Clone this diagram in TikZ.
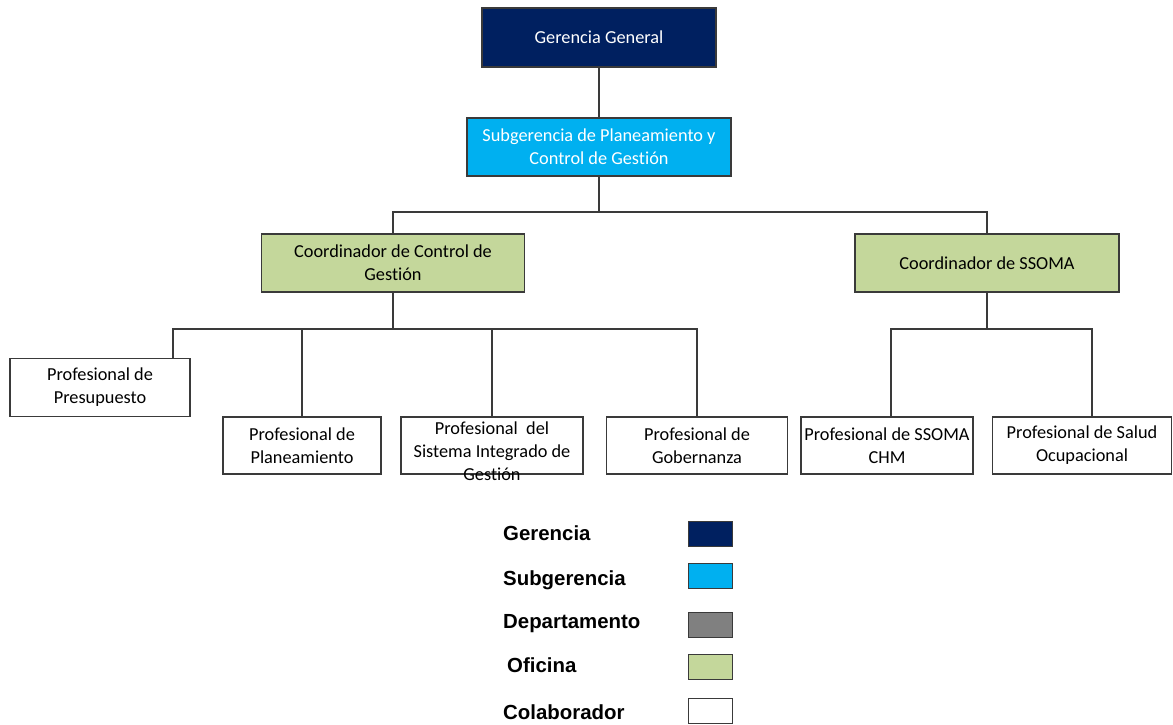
\documentclass[tikz,border=0pt]{standalone}
\usepackage{fontspec}
\setmainfont{Carlito}[Ligatures=NoCommon]
\newfontfamily\legfont{Liberation Sans}
\definecolor{gerC}{HTML}{002060}
\definecolor{subC}{HTML}{00B0F0}
\definecolor{depC}{HTML}{808080}
\definecolor{ofiC}{HTML}{C4D79B}
\definecolor{lineC}{HTML}{3A3A3A}
\begin{document}
\begin{tikzpicture}[x=1pt,y=-1pt,
  box/.style={draw=lineC,line width=1.1pt,inner sep=0pt,align=center,
     font=\fontsize{18.3}{23}\selectfont,text=black},
  conn/.style={draw=lineC,line width=1.1pt},
  legtext/.style={anchor=west,inner sep=0pt,font=\legfont\bfseries\fontsize{20.4}{24}\selectfont},
  legbox/.style={draw=lineC,line width=1pt,minimum width=44pt,minimum height=25pt,inner sep=0pt}]
\useasboundingbox (0,0) rectangle (1173,724);
% level 1
\node[box,fill=gerC,text=white,minimum width=234pt,minimum height=59pt] (gg) at (599,37.5) {Gerencia General};
% level 2
\node[box,fill=subC,text=white,minimum width=264pt,minimum height=58pt] (sub) at (599,147) {Subgerencia de Planeamiento y\\Control de Gestión};
% level 3
\node[box,fill=ofiC,minimum width=263pt,minimum height=58pt] (cc) at (393,263) {Coordinador de Control de\\Gestión};
\node[box,fill=ofiC,minimum width=264pt,minimum height=58pt] (cs) at (987,263) {Coordinador de SSOMA};
% level 4
\node[box,minimum width=180pt,minimum height=58pt] (pre) at (100,387.5) {Profesional de\\Presupuesto};
\node[box,minimum width=158pt,minimum height=57pt] (pla) at (302,445.5) {Profesional de\\Planeamiento};
\node[box,minimum width=182pt,minimum height=57pt] (sig) at (492,445.5) {};
\node[box,draw=none,anchor=center] (sigt) at (492,451) {Profesional\ \ del\\Sistema Integrado de\\Gestión};
\node[box,minimum width=181pt,minimum height=57pt] (gob) at (697,445.5) {Profesional de\\Gobernanza};
\node[box,minimum width=172pt,minimum height=57pt] (chm) at (887,445.5) {Profesional de SSOMA\\CHM};
\node[box,minimum width=179pt,minimum height=57pt] (sal) at (1082,445.5) {Profesional de Salud\\Ocupacional};
% connector junctions
\coordinate (j1) at (sub.south |- 0,212);
\coordinate (j2) at (cc.south |- 0,329);
\coordinate (j3) at (cs.south |- 0,329);
\coordinate (p0) at (173,358);
\coordinate (c0) at (891,417);
\coordinate (s0) at (1092,417);
\draw[conn] (gg.south) -- (sub.north);
\draw[conn] (sub.south) -- (j1);
\draw[conn] (j1) -| (cc.north);
\draw[conn] (j1) -| (cs.north);
\draw[conn] (cc.south) -- (j2);
\draw[conn] (j2) -| (p0);
\draw[conn] (j2) -| (sig.north);
\draw[conn] (j2) -| (gob.north);
\draw[conn] (j2 -| pla.north) -- (pla.north);
\draw[conn] (cs.south) -- (j3);
\draw[conn] (j3) -| (c0);
\draw[conn] (j3) -| (s0);
% legend
\node[legtext] (l1) at (503,533) {Gerencia};
\node[legtext] (l2) at (503,580) {Subgerencia};
\node[legtext] (l3) at (503,624) {Departamento};
\node[legtext] (l4) at (507,665) {Oficina};
\node[legtext] (l5) at (503,712) {Colaborador};
\node[legbox,fill=gerC] (b1) at (710,533.5) {};
\node[legbox,fill=subC] (b2) at (710,576) {};
\node[legbox,fill=depC] (b3) at (710,624.5) {};
\node[legbox,fill=ofiC] (b4) at (710,667) {};
\node[legbox,fill=white] (b5) at (710,710.5) {};
\end{tikzpicture}
\end{document}
